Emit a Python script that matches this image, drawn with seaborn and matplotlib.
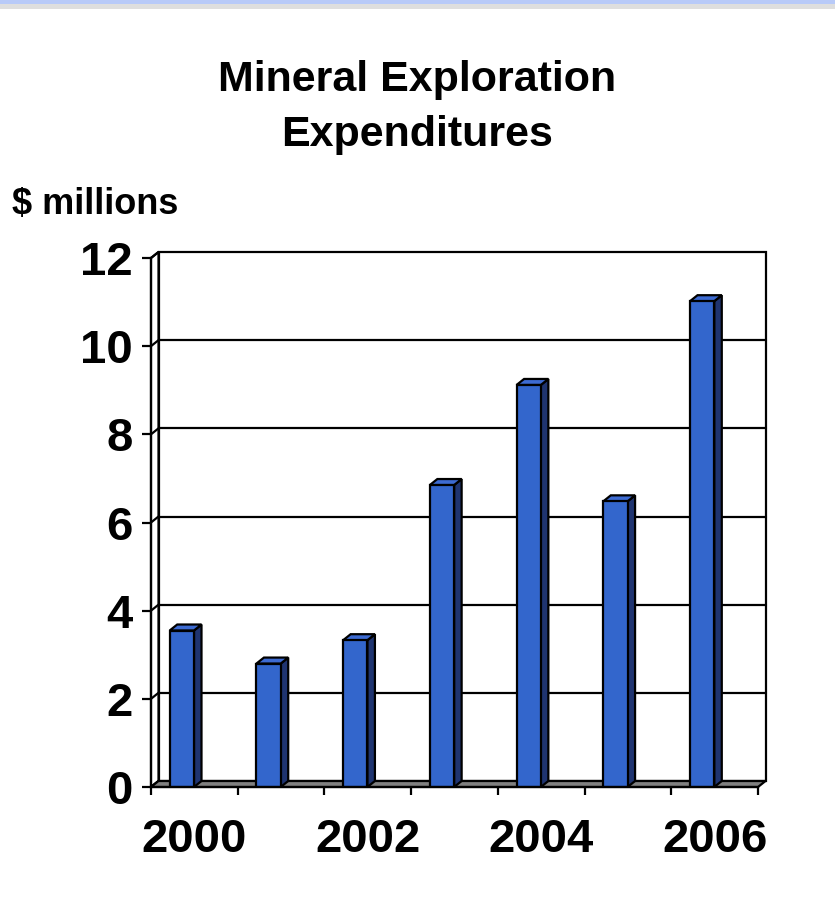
import matplotlib
matplotlib.use("Agg")
import matplotlib.pyplot as plt
import seaborn as sns
import pandas as pd
from matplotlib.patches import Polygon, Rectangle

# ---- data ----
years = ["2000", "2001", "2002", "2003", "2004", "2005", "2006"]
expenditures = [3.55, 2.8, 3.33, 6.85, 9.12, 6.48, 11.02]
y_ticks = [0, 2, 4, 6, 8, 10, 12]
x_label_years = ["2000", "2002", "2004", "2006"]
title_lines = ["Mineral Exploration", "Expenditures"]
unit_label = "$ millions"

df = pd.DataFrame({"year": years, "value": expenditures})

sns.set_style("white")
plt.rcParams['font.family'] = ['Liberation Sans', 'DejaVu Sans']
plt.rcParams['font.weight'] = 'bold'

W, H = 835, 919
fig = plt.figure(figsize=(W / 100, H / 100), dpi=100)
fig.patch.set_facecolor('white')

# top decorative band
fig.patches.append(Rectangle((0, 1 - 4 / H), 1, 4 / H, transform=fig.transFigure,
                             facecolor='#B8CAF8', edgecolor='none'))
fig.patches.append(Rectangle((0, 1 - 9 / H), 1, 5 / H, transform=fig.transFigure,
                             facecolor='#DEDEDE', edgecolor='none'))

# front plane of axes (pixels)
L, R, B, T = 151, 758, 787, 258
ax = fig.add_axes([L / W, 1 - B / H, (R - L) / W, (B - T) / H])
ax.set_facecolor('none')

FRONT = '#3366CC'
SIDE = '#1F3470'
TOP = '#3D6BD2'
LW = 1.6

sns.barplot(data=df, x="year", y="value", color=FRONT, saturation=1, width=0.28,
            edgecolor='black', linewidth=LW, ax=ax, zorder=3)

ncat = len(years)
xmin, xmax = -0.5, ncat - 0.5
ymax = y_ticks[-1]
ax.set_xlim(xmin, xmax)
ax.set_ylim(0, ymax)

# depth offsets (in data units, from pixel depth)
px_x = (R - L) / (xmax - xmin)
px_y = (B - T) / ymax
DX = 7.5 / px_x
DY = 6.0 / px_y
SHIFT = -12.5 / px_x

# back wall
ax.add_patch(Rectangle((xmin + DX, DY), xmax - xmin, ymax, facecolor='white',
                       edgecolor='black', linewidth=LW, zorder=0.5, clip_on=False))
# left side wall
ax.add_patch(Polygon([(xmin, 0), (xmin + DX, DY), (xmin + DX, ymax + DY), (xmin, ymax)],
                     closed=True, facecolor='white', edgecolor='black', linewidth=LW,
                     zorder=0.6, clip_on=False))
# gridlines on back wall + diagonals on side wall
for v in y_ticks:
    if 0 < v < ymax:
        ax.plot([xmin + DX, xmax + DX], [v + DY, v + DY], color='black', lw=LW,
                zorder=0.7, clip_on=False)
    ax.plot([xmin, xmin + DX], [v, v + DY], color='black', lw=LW, zorder=0.7,
            clip_on=False)
# floor
ax.add_patch(Polygon([(xmin, 0), (xmax, 0), (xmax + DX, DY), (xmin + DX, DY)],
                     closed=True, facecolor='#808080', edgecolor='black', linewidth=LW,
                     zorder=0.8, clip_on=False))

# 3D faces of bars
for p in list(ax.patches):
    if p.get_zorder() != 3:
        continue
    p.set_x(p.get_x() + SHIFT)
    x0, w, h = p.get_x(), p.get_width(), p.get_height()
    ax.add_patch(Polygon([(x0 + w, 0), (x0 + w + DX, DY), (x0 + w + DX, h + DY), (x0 + w, h)],
                         closed=True, facecolor=SIDE, edgecolor='black', linewidth=LW,
                         zorder=2.9, clip_on=False))
    ax.add_patch(Polygon([(x0, h), (x0 + DX, h + DY), (x0 + w + DX, h + DY), (x0 + w, h)],
                         closed=True, facecolor=TOP, edgecolor='black', linewidth=LW,
                         zorder=2.9, clip_on=False))

# spines
for s in ['top', 'right']:
    ax.spines[s].set_visible(False)
for s in ['left', 'bottom']:
    ax.spines[s].set_color('black')
    ax.spines[s].set_linewidth(LW)
    ax.spines[s].set_zorder(4)

# ticks
ax.set_yticks(y_ticks)
ax.set_yticklabels([str(v) for v in y_ticks])
ax.tick_params(axis='y', left=True, length=6.5, width=LW, color='black', pad=6.5,
               labelsize=34, labelcolor='black', direction='out')

ax.set_xticks([i - 0.5 for i in range(ncat + 1)])
ax.set_xticklabels([''] * (ncat + 1))
ax.set_xticks([years.index(y) for y in x_label_years], minor=True)
ax.set_xticklabels(x_label_years, minor=True)
ax.tick_params(axis='x', which='major', bottom=True, length=6, width=LW, color='black',
               direction='out')
ax.tick_params(axis='x', which='minor', bottom=True, length=0, pad=22, labelsize=34,
               labelcolor='black')
for lbl in ax.get_xticklabels(minor=True) + ax.get_yticklabels():
    lbl.set_fontweight('bold')

ax.set_xlabel('')
ax.set_ylabel('')

# titles
fig.text(0.5, 1 - 91 / H, title_lines[0], ha='center', va='baseline', fontsize=31,
         fontweight='bold', color='black')
fig.text(0.5, 1 - 146 / H, title_lines[1], ha='center', va='baseline', fontsize=31,
         fontweight='bold', color='black')
fig.text(12 / W, 1 - 214 / H, unit_label, ha='left', va='baseline', fontsize=26,
         fontweight='bold', color='black')

fig.savefig("out.png", dpi=100)
